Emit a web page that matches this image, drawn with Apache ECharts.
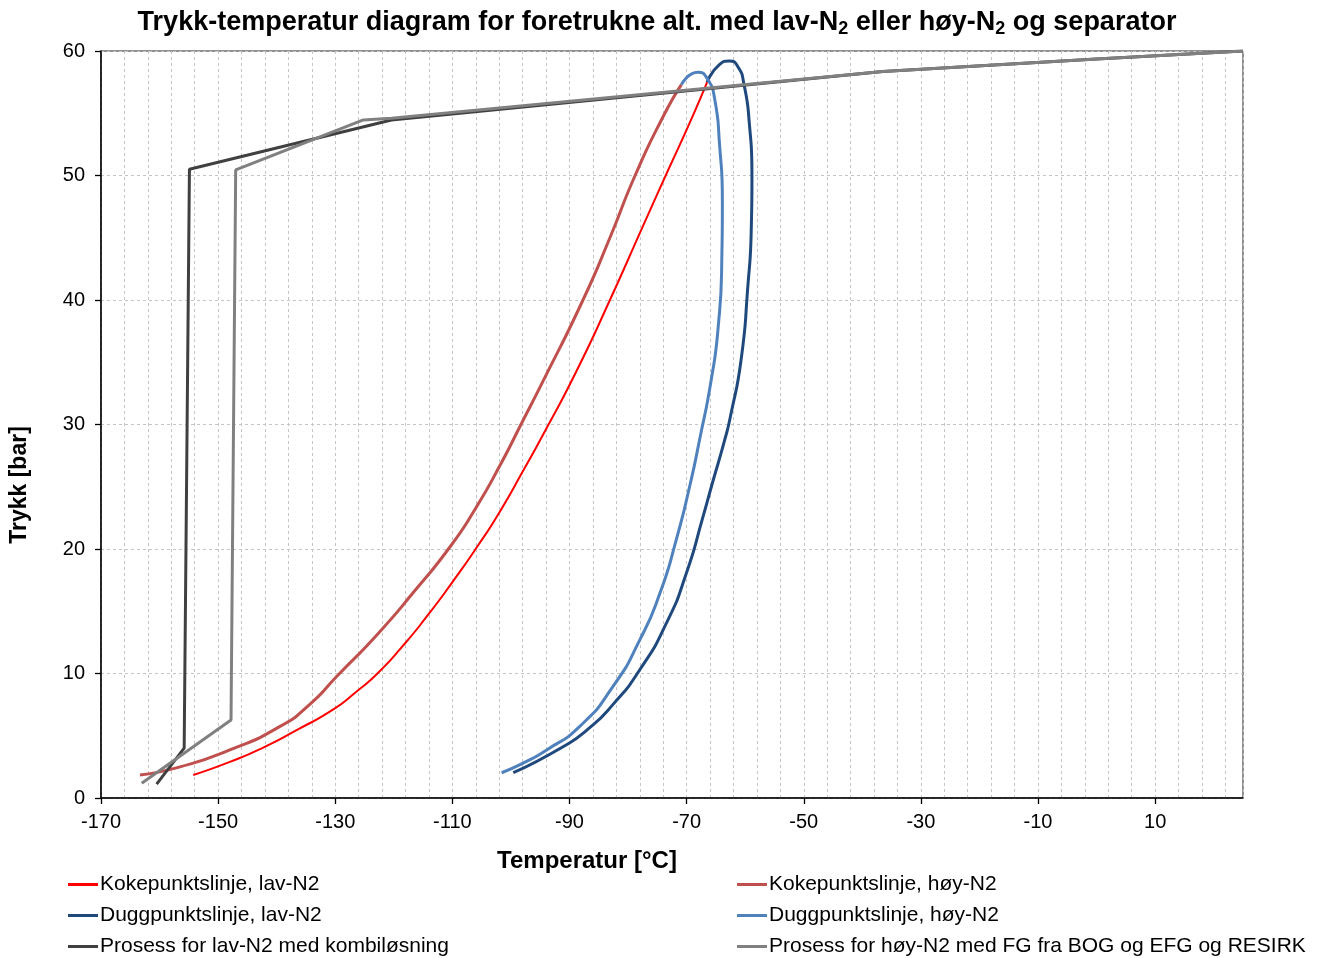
<!DOCTYPE html>
<html>
<head>
<meta charset="utf-8">
<script src="https://cdn.jsdelivr.net/npm/echarts@6/dist/echarts.min.js"></script>
<style>
  html, body { margin: 0; padding: 0; background: #fff; }
  #chart { width: 1327px; height: 958px; }
</style>
</head>
<body>
<div id="chart"></div>
<script>
// Axis ranges and tick spacing
const tempRange = [-170, 25];
const tempMajorStep = 20;
const tempGridStep = 4;
const pressureRange = [0, 60];
const pressureStep = 10;

// Series names (legend)
const names = {
  kokeLav: 'Kokepunktslinje, lav-N2',
  duggLav: 'Duggpunktslinje, lav-N2',
  prosLav: 'Prosess for lav-N2 med kombiløsning',
  kokeHoy: 'Kokepunktslinje, høy-N2',
  duggHoy: 'Duggpunktslinje, høy-N2',
  prosHoy: 'Prosess for høy-N2 med FG fra BOG og EFG og RESIRK'
};

// [temperature °C, pressure bar]
const kokeLav = [
  [-154.25, 1.85], [-148.0, 2.9], [-142.3, 4.05], [-136.6, 5.45], [-130.4, 7.1],
  [-126.5, 8.5], [-122.8, 10.0], [-118.5, 12.2], [-114.4, 14.56], [-109.9, 17.4],
  [-105.6, 20.3], [-101.9, 23.0], [-97.9, 26.3], [-94.5, 29.2], [-88.8, 34.3],
  [-83.1, 40.0], [-77.5, 45.9], [-72.9, 50.7], [-69.5, 54.2], [-66.5, 57.5]
];
const duggLav = [
  [-99.6, 2.03], [-91.1, 4.12], [-86.8, 5.55], [-82.6, 7.5], [-78.0, 10.3],
  [-73.5, 14.0], [-70.05, 18.05], [-67.2, 22.6], [-65.6, 25.3], [-63.5, 28.76],
  [-62.5, 30.7], [-60.7, 35.2], [-59.6, 40.8], [-58.95, 46.0], [-58.85, 50.0],
  [-59.3, 54.2], [-60.2, 57.3], [-61.25, 58.74], [-62.7, 59.2], [-64.4, 58.9],
  [-66.5, 57.5]
];
const prosLav = [
  [-160.5, 1.12], [-155.8, 4.0], [-154.9, 50.5], [-120.4, 54.46],
  [-36.5, 58.35], [0, 59.35], [25, 60]
];
const kokeHoy = [
  [-163.35, 1.85], [-156.5, 2.5], [-148.0, 3.86], [-139.5, 5.73], [-134.3, 7.55],
  [-129.8, 9.74], [-122.7, 13.2], [-116.5, 16.6], [-110.2, 20.3], [-106.0, 23.3],
  [-102.0, 26.6], [-97.9, 30.36], [-94.5, 33.5], [-87.7, 40.0], [-83.1, 45.0],
  [-78.8, 50.0], [-74.05, 54.7], [-70.9, 57.3]
];
const duggHoy = [
  [-101.6, 2.03], [-97.5, 2.9], [-93.9, 3.86], [-88.3, 5.73], [-82.6, 8.94],
  [-78.0, 12.7], [-74.6, 16.4], [-71.8, 20.7], [-69.5, 25.0], [-67.8, 28.76],
  [-65.8, 33.6], [-64.6, 37.9], [-64.0, 43.2], [-63.9, 47.8], [-64.4, 52.6],
  [-65.2, 56.1], [-66.5, 57.8], [-68.1, 58.3], [-70.9, 57.3]
];
const prosHoy = [
  [-163.05, 1.18], [-147.8, 6.26], [-147.0, 50.45], [-125.2, 54.46],
  [-120.4, 54.6], [-36.5, 58.35], [0, 59.35], [25, 60]
];

// Legend placement: two columns, three rows
const legendRows = [
  [names.kokeLav, names.kokeHoy],
  [names.duggLav, names.duggHoy],
  [names.prosLav, names.prosHoy]
];

const FONT = '"Liberation Sans", Arial, sans-serif';

const chart = echarts.init(document.getElementById('chart'), null, { renderer: 'canvas' });

function lineSeries(name, data, color, width, smooth) {
  return {
    name: name,
    type: 'line',
    xAxisIndex: 0,
    yAxisIndex: 0,
    data: data,
    showSymbol: false,
    symbol: 'none',
    smooth: smooth,
    lineStyle: { color: color, width: width },
    itemStyle: { color: color },
    emphasis: { disabled: true },
    animation: false
  };
}

const legendColumnsX = [68, 737];
const legends = [];
legendRows.forEach(function (row, r) {
  row.forEach(function (name, c) {
    legends.push({
      data: [name],
      left: legendColumnsX[c],
      top: 874 + r * 31,
      padding: 0,
      itemWidth: 30,
      itemHeight: 3,
      icon: 'rect',
      textStyle: { fontFamily: FONT, fontSize: 21, color: '#000', lineHeight: 20, padding: [0, 0, 0, -3] },
      selectedMode: false
    });
  });
});

chart.setOption({
  backgroundColor: '#fff',
  animation: false,
  grid: {
    left: 101, right: 84, top: 51, bottom: 160,
    show: true, borderColor: '#222', borderWidth: 1, backgroundColor: 'transparent'
  },
  legend: legends,
  xAxis: [
    {
      type: 'value',
      min: tempRange[0], max: tempRange[1], interval: tempMajorStep,
      axisLine: { show: true, onZero: false, lineStyle: { color: '#000', width: 1.5 } },
      axisTick: { show: true, inside: false, length: 6, lineStyle: { color: '#000', width: 1.3 } },
      axisLabel: { show: true, showMaxLabel: false, margin: 14, fontFamily: FONT, fontSize: 20, color: '#000' },
      splitLine: { show: false }
    },
    {
      type: 'value', position: 'bottom',
      min: tempRange[0], max: tempRange[1], interval: tempGridStep,
      axisLine: { show: false }, axisTick: { show: false }, axisLabel: { show: false },
      splitLine: { show: true, lineStyle: { color: '#c4c4c4', width: 1, type: [3, 3] } }
    }
  ],
  yAxis: {
    type: 'value',
    min: pressureRange[0], max: pressureRange[1], interval: pressureStep,
    axisLine: { show: true, onZero: false, lineStyle: { color: '#000', width: 1.5 } },
    axisTick: { show: true, inside: false, length: 6, lineStyle: { color: '#000', width: 1.3 } },
    axisLabel: { margin: 16, fontFamily: FONT, fontSize: 20, color: '#000' },
    splitLine: { show: true, lineStyle: { color: '#c4c4c4', width: 1, type: [3, 3] } }
  },
  graphic: [
    {
      type: 'text', x: 657, y: 23, silent: true,
      style: {
        text: '{a|Trykk-temperatur diagram for foretrukne alt. med lav-N}{s|2}{a| eller høy-N}{s|2}{a| og separator}',
        align: 'center', verticalAlign: 'middle',
        rich: {
          a: { fontFamily: FONT, fontSize: 27, fontWeight: 'bold', fill: '#000' },
          s: { fontFamily: FONT, fontSize: 18, fontWeight: 'bold', fill: '#000', padding: [13, 0, 0, 0] }
        }
      }
    },
    {
      type: 'text', x: 587, y: 861, silent: true,
      style: { text: 'Temperatur [°C]', align: 'center', verticalAlign: 'middle',
        fontFamily: FONT, fontSize: 24, fontWeight: 'bold', fill: '#000' }
    },
    {
      type: 'text', x: 20, y: 485, rotation: Math.PI / 2, silent: true,
      style: { text: 'Trykk [bar]', align: 'center', verticalAlign: 'middle',
        fontFamily: FONT, fontSize: 23, fontWeight: 'bold', fill: '#000' }
    }
  ],
  series: [
    lineSeries(names.kokeLav, kokeLav, '#FF0000', 2, 0.6),
    lineSeries(names.duggLav, duggLav, '#1F497D', 3, 0.6),
    lineSeries(names.kokeHoy, kokeHoy, '#C0504D', 3, 0.6),
    lineSeries(names.duggHoy, duggHoy, '#4F81BD', 3, 0.6),
    lineSeries(names.prosLav, prosLav, '#404040', 3, false),
    lineSeries(names.prosHoy, prosHoy, '#808080', 3, false)
  ]
});
</script>
</body>
</html>
